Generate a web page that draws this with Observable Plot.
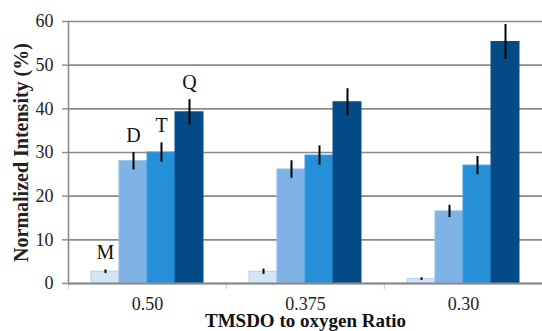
<!DOCTYPE html>
<html>
<head>
<meta charset="utf-8">
<script src="https://cdn.jsdelivr.net/npm/d3@7"></script>
<script src="https://cdn.jsdelivr.net/npm/@observablehq/plot@0.6"></script>
<style>
  html, body { margin: 0; padding: 0; background: #fff; }
  #chart svg { display: block; }
</style>
</head>
<body>
<div id="chart"></div>
<script>
const ratios = ["0.50", "0.375", "0.30"];
const species = ["M", "D", "T", "Q"];
const values = {
  M: [2.7, 2.7, 1.0],
  D: [28.0, 26.1, 16.5],
  T: [30.0, 29.3, 27.0],
  Q: [39.2, 41.5, 55.3]
};
const errors = {
  M: [0.4, 0.6, 0.3],
  D: [2.0, 2.0, 1.4],
  T: [2.2, 2.2, 2.1],
  Q: [2.9, 3.1, 4.0]
};
const colors = ["#d5e5f5", "#7fb3e6", "#2590d8", "#034a86"];
const strokes = ["#b3cfee", "#8dbcea", "#3a9be0", "#0a4f8c"];
const yTicks = [0, 10, 20, 30, 40, 50, 60];

const data = [];
ratios.forEach((r, i) => species.forEach(s => data.push({
  ratio: r, species: s, value: values[s][i], err: errors[s][i]
})));
const labels = data.filter(d => d.ratio === ratios[0]);

const W = 542, H = 331, mL = 67, mR = 0, mT = 21, mB = 48;
const step = (W - mL - mR) / ratios.length;
const serif = "'Liberation Serif', 'Times New Roman', serif";
const barShare = 0.725; // fraction of each category occupied by bars
const outer = (species.length / barShare - species.length) / 2;

const chart = Plot.plot({
  width: W, height: H,
  marginLeft: mL, marginRight: mR, marginTop: mT, marginBottom: mB,
  style: { fontFamily: serif, fontSize: "18px", background: "#fff", overflow: "visible" },
  fx: { domain: ratios, padding: 0, label: null, axis: null },
  x: { domain: species, paddingInner: 0, paddingOuter: outer, axis: null },
  y: { domain: [0, 60], ticks: yTicks, label: null, axis: null },
  color: { domain: species, range: colors },
  marks: [
    Plot.gridY(yTicks, { stroke: "#8a8a8a", strokeOpacity: 1, strokeWidth: 1.6 }),
    Plot.axisY(yTicks, {
      tickSize: 6, stroke: "#8a8a8a", strokeWidth: 1.4, tickPadding: 9,
      fill: "#222", label: null
    }),
    Plot.frame({ anchor: "left", stroke: "#8a8a8a", strokeWidth: 1.6, facet: "super" }),
    Plot.text(["Normalized Intensity (%)"], {
      frameAnchor: "left", textAnchor: "middle", lineAnchor: "middle",
      rotate: -90, dx: -47, fontSize: 20,
      fontWeight: "bold", fill: "#222", facet: "super"
    }),
    Plot.axisFx({ anchor: "bottom", tickSize: 0, tickPadding: 14, fill: "#222", label: null }),
    Plot.axisFx({ anchor: "bottom", tickSize: 6, text: null, stroke: "#c4c4c4", dx: -step / 2, label: null }),
    Plot.text(["TMSDO to oxygen Ratio"], {
      frameAnchor: "bottom", lineAnchor: "middle", dy: 37, fontSize: 19, fontWeight: "bold",
      fill: "#111", facet: "super"
    }),
    Plot.barY(data, {
      fx: "ratio", x: "species", y: "value", fill: "species",
      stroke: (d) => strokes[species.indexOf(d.species)], strokeWidth: 1
    }),
    Plot.ruleY([0], { stroke: "#8a8a8a", strokeWidth: 2 }),
    Plot.ruleX(data, {
      fx: "ratio", x: "species",
      y1: d => d.value - d.err, y2: d => d.value + d.err,
      stroke: "#000", strokeWidth: 2
    }),
    Plot.text(labels, {
      fx: "ratio", x: "species", y: d => d.value + d.err, text: "species",
      dy: -17, fontSize: 20, fill: "#111",
      fontFamily: d => d.species === "M" ? "'Liberation Sans', Arial, sans-serif" : serif
    })
  ]
});
document.getElementById("chart").appendChild(chart);
</script>
</body>
</html>
